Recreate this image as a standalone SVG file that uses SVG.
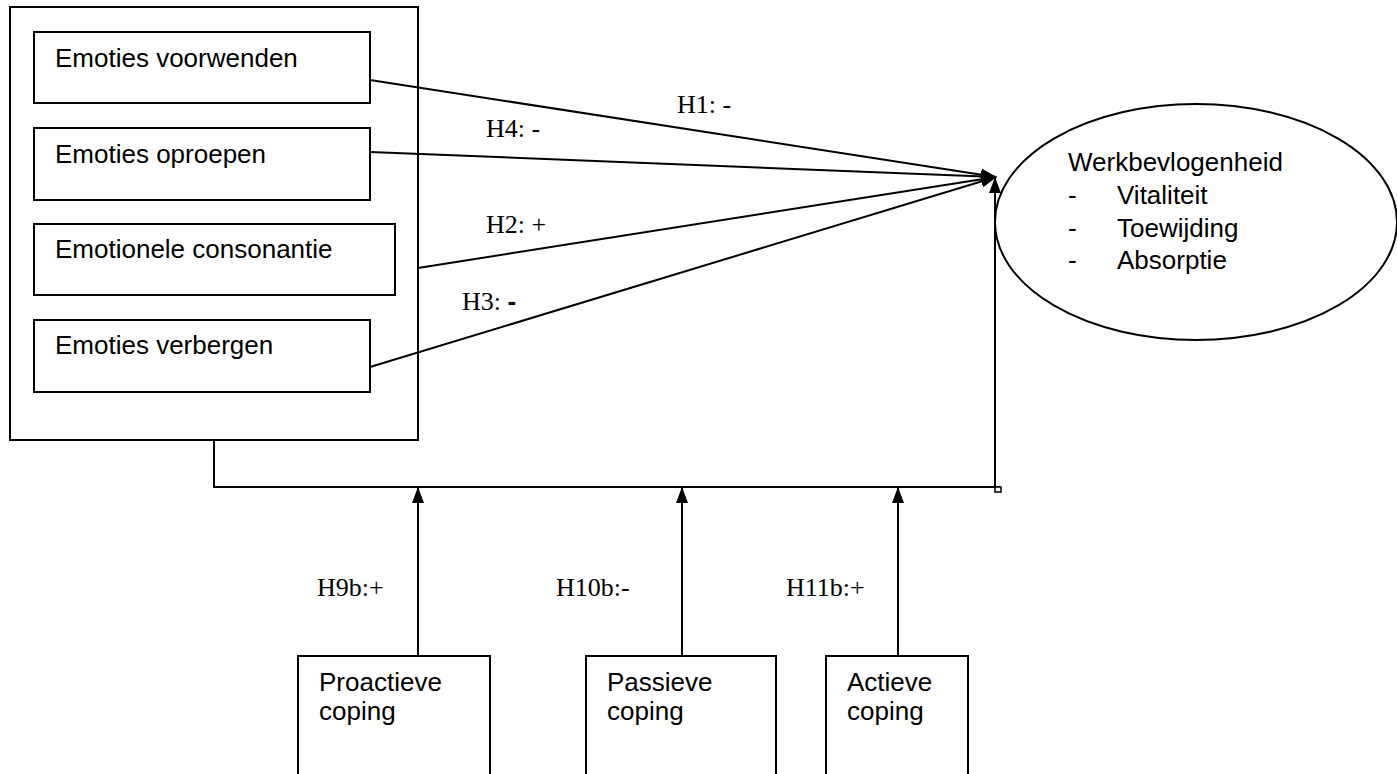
<svg xmlns="http://www.w3.org/2000/svg" width="1397" height="774" viewBox="0 0 1397 774">
<style>
.box{fill:#fff;stroke:#000;stroke-width:2}
.t{font-family:"Liberation Sans",Arial,sans-serif;font-size:26px;fill:#000}
.h{font-family:"Liberation Serif","Times New Roman",serif;font-size:26px;fill:#000}
.c{stroke:#000;stroke-width:2;fill:none}
</style>
<defs>
<marker id="ah" markerWidth="16" markerHeight="12" refX="15" refY="6" orient="auto" markerUnits="userSpaceOnUse">
<path d="M0,0 L16,6 L0,12 Z" fill="#000"/>
</marker>
</defs>
<rect width="1397" height="774" fill="#fff"/>
<g id="group-emotional-labor">
<rect class="box" x="10" y="7" width="408" height="433"/>
</g>
<g id="node-voorwenden">
<rect class="box" x="34" y="32" width="336" height="71"/>
<text class="t" x="55" y="67">Emoties voorwenden</text>
</g>
<g id="node-oproepen">
<rect class="box" x="34" y="128" width="336" height="72"/>
<text class="t" x="55" y="163">Emoties oproepen</text>
</g>
<g id="node-consonantie">
<rect class="box" x="34" y="224" width="361" height="71"/>
<text class="t" x="55" y="258">Emotionele consonantie</text>
</g>
<g id="node-verbergen">
<rect class="box" x="34" y="320" width="336" height="72"/>
<text class="t" x="55" y="354">Emoties verbergen</text>
</g>
<g id="node-werkbevlogenheid">
<ellipse class="box" cx="1196" cy="222" rx="201" ry="118"/>
<text class="t" x="1068" y="171">Werkbevlogenheid</text>
<text class="t" x="1068" y="204">-</text><text class="t" x="1117" y="204">Vitaliteit</text>
<text class="t" x="1068" y="237">-</text><text class="t" x="1117" y="237">Toewijding</text>
<text class="t" x="1068" y="269">-</text><text class="t" x="1117" y="269">Absorptie</text>
</g>
<g id="node-proactieve">
<rect class="box" x="298" y="656" width="192" height="130"/>
<text class="t" x="319" y="691">Proactieve</text>
<text class="t" x="319" y="720">coping</text>
</g>
<g id="node-passieve">
<rect class="box" x="586" y="656" width="190" height="130"/>
<text class="t" x="607" y="691">Passieve</text>
<text class="t" x="607" y="720">coping</text>
</g>
<g id="node-actieve">
<rect class="box" x="826" y="656" width="142" height="130"/>
<text class="t" x="847" y="691">Actieve</text>
<text class="t" x="847" y="720">coping</text>
</g>
<g id="connectors">
<line class="c" x1="370" y1="80" x2="996" y2="177" marker-end="url(#ah)"/>
<line class="c" x1="370" y1="152" x2="996" y2="177" marker-end="url(#ah)"/>
<line class="c" x1="418" y1="268" x2="996" y2="177" marker-end="url(#ah)"/>
<line class="c" x1="370" y1="367" x2="996" y2="177" marker-end="url(#ah)"/>
<polyline class="c" points="214,440 214,487 1000,487"/>
<line class="c" x1="995" y1="487" x2="995" y2="178" marker-end="url(#ah)"/>
<rect x="995" y="487" width="6" height="5" fill="#fff" stroke="#000" stroke-width="1.5"/>
<line class="c" x1="418" y1="656" x2="418" y2="488" marker-end="url(#ah)"/>
<line class="c" x1="682" y1="656" x2="682" y2="488" marker-end="url(#ah)"/>
<line class="c" x1="898" y1="656" x2="898" y2="488" marker-end="url(#ah)"/>
<text class="h" x="677" y="113">H1: -</text>
<text class="h" x="486" y="137">H4: -</text>
<text class="h" x="486" y="233">H2: +</text>
<text class="h" x="462" y="310">H3: <tspan font-family="Liberation Sans, Arial, sans-serif" font-weight="bold">-</tspan></text>
<text class="h" x="317" y="596">H9b:+</text>
<text class="h" x="556" y="596">H10b:-</text>
<text class="h" x="786" y="596">H11b:+</text>
</g>
</svg>
